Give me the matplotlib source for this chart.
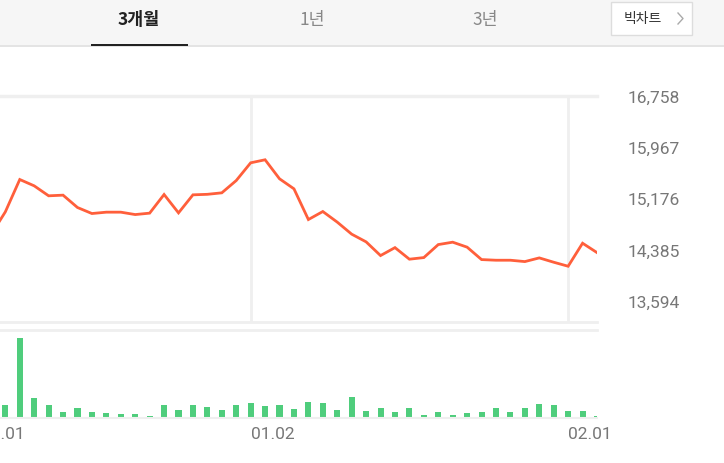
import matplotlib
matplotlib.use("Agg")
import matplotlib.pyplot as plt
import matplotlib.transforms as mtransforms
from matplotlib.patches import Rectangle

# trading-day index 0 = 12.01 (off the left edge)
day_idx = list(range(44))
prices = [14500, 14611, 14967, 15467, 15369, 15215, 15225, 15034, 14941, 14962,
          14962, 14925, 14947, 15235, 14951, 15230, 15238, 15261, 15451, 15725,
          15772, 15478, 15323, 14848, 14972, 14808, 14622, 14503, 14291, 14414,
          14235, 14260, 14461, 14498, 14421, 14229, 14219, 14219, 14198, 14255,
          14188, 14126, 14482, 14337]
volumes = [9, 8, 13, 80, 20, 13, 5.7, 9.7, 5.7, 5.3,
           4.3, 4.3, 1.7, 12.7, 8.3, 13, 11, 8.3, 13.3, 15.3,
           11.7, 12.7, 9.3, 16, 15, 8.3, 21, 7, 9.7, 6.3,
           9.7, 3, 6.3, 3, 5, 6.3, 10.3, 5.7, 9.7, 13.7,
           13, 7, 7, 2]
price_ticks = [13594, 14385, 15176, 15967, 16758]
date_ticks = [0, 19, 41]
date_labels = ["12.01", "01.02", "02.01"]
tabs = ["3개월", "1년", "3년"]

W, H = 724, 464
KR = ["Noto Sans CJK KR", "DejaVu Sans"]
NUM = ["Roboto", "DejaVu Sans"]
LINE = "#ff5f3b"
BAR = "#4fcd7c"
GRID = "#efefef"

fig = plt.figure(figsize=(W / 100, H / 100), dpi=100)
fig.patch.set_facecolor("white")

def box(x0, y0, x1, y1):
    # pixel box (top-left origin) -> figure fraction
    return [x0 / W, 1 - y1 / H, (x1 - x0) / W, (y1 - y0) / H]

# header band
hd = fig.add_axes(box(0, 0, W, 48))
hd.set_xlim(0, W)
hd.set_ylim(48, 0)
hd.axis("off")
hd.add_patch(Rectangle((0, 0), W, 46, color="#f6f6f6", lw=0))
hd.add_patch(Rectangle((0, 46), W, 1.5, color="#e4e4e4", lw=0))
hd.add_patch(Rectangle((91, 45), 97, 2, color="#222222", lw=0))
hd.text(139, 20, tabs[0], family=KR, fontsize=12.5, fontweight="bold",
        color="#222222", ha="center", va="center")
hd.text(312, 20, tabs[1], family=KR, fontsize=12.5, color="#888888",
        ha="center", va="center")
hd.text(485, 20, tabs[2], family=KR, fontsize=12.5, color="#888888",
        ha="center", va="center")
hd.add_patch(Rectangle((611, 3), 81, 33, facecolor="white",
                       edgecolor="#dddddd", lw=1))
hd.text(643, 19, "빅차트", family=KR, fontsize=10, color="#333333",
        ha="center", va="center")
# chevron
hd.plot([678, 683, 678], [14, 19.5, 25], color="#aaaaaa", lw=1)

xlim = (1.63, 43)

# price pane
ax = fig.add_axes(box(0, 97, 597, 323))
ax.plot(day_idx, prices, color=LINE, lw=2.0, solid_joinstyle="miter")
for d in date_ticks:
    ax.axvline(d, color=GRID, lw=2, zorder=0)
for s in ["left", "right"]:
    ax.spines[s].set_visible(False)
ax.spines["top"].set_color(GRID)
ax.spines["top"].set_linewidth(2.5)
ax.spines["bottom"].set_color(GRID)
ax.spines["bottom"].set_linewidth(2)
ax.set_xticks([])
ax.yaxis.tick_right()
ax.set_yticks(price_ticks)
ax.set_yticklabels([f"{v:,}" for v in price_ticks], family=NUM,
                   fontsize=12.5, color="#777777")
ax.tick_params(axis="y", length=0, pad=22)
for lbl in ax.get_yticklabels():
    lbl.set_ha("left")
ax.set_xlim(*xlim)
ax.set_ylim(13264, 16758)

# volume pane
av = fig.add_axes(box(0, 331, 597, 419))
av.bar(day_idx, volumes, width=0.42, color=BAR)
for s in ["left", "right"]:
    av.spines[s].set_visible(False)
av.spines["top"].set_color(GRID)
av.spines["top"].set_linewidth(2)
av.spines["bottom"].set_color(GRID)
av.spines["bottom"].set_linewidth(1.5)
av.set_yticks([])
av.set_xticks([])
av.set_xlim(*xlim)
av.set_ylim(0, max(volumes) * 1.105)

# date labels, left-aligned on their day (first one runs off the edge,
# as in the reference)
trans = mtransforms.blended_transform_factory(av.transData, av.transAxes)
for i, (d, lab) in enumerate(zip(date_ticks, date_labels)):
    tr = trans
    if i == 0:
        tr = mtransforms.offset_copy(trans, fig=fig, x=5, units="dots")
    av.text(d, -0.18, lab, transform=tr, family=NUM, fontsize=12.5,
            color="#777777", ha="left", va="center", clip_on=False)

fig.savefig("out.png", dpi=100)
